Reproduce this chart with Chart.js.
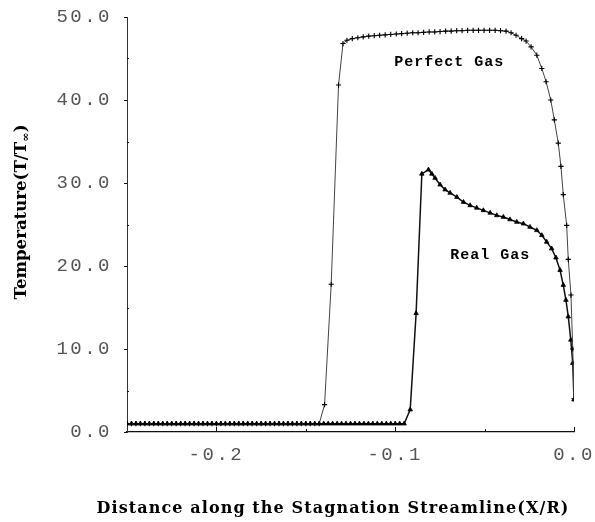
<!DOCTYPE html>
<html><head><meta charset="utf-8">
<script src="https://cdn.jsdelivr.net/npm/chart.js@4.4.0/dist/chart.umd.min.js"></script>
<style>html,body{margin:0;padding:0;background:#fff}canvas{display:block}</style>
</head><body>
<canvas id="c" width="595" height="522"></canvas>
<script>
// ---- data ----
const perfectX = [
-0.2500,-0.2475,-0.2450,-0.2425,-0.2400,-0.2375,-0.2350,-0.2325,-0.2300,-0.2275,
-0.2250,-0.2225,-0.2200,-0.2175,-0.2150,-0.2125,-0.2100,-0.2075,-0.2050,-0.2025,
-0.2000,-0.1975,-0.1950,-0.1925,-0.1900,-0.1875,-0.1850,-0.1825,-0.1800,-0.1775,
-0.1750,-0.1725,-0.1700,-0.1675,-0.1650,-0.1625,-0.1600,-0.1575,-0.1550,-0.1525,
-0.1500,-0.1475,-0.1450,-0.1425,
-0.1395,-0.1358,-0.1317,-0.1292,-0.1270,-0.1240,-0.1209,-0.1179,-0.1148,-0.1117,
-0.1087,-0.1056,-0.1025,-0.0994,-0.0964,-0.0933,-0.0902,-0.0872,-0.0841,-0.0810,
-0.0779,-0.0749,-0.0718,-0.0687,-0.0656,-0.0626,-0.0595,-0.0564,-0.0534,-0.0503,
-0.0472,-0.0441,-0.0411,-0.0380,-0.0352,-0.0324,-0.0293,-0.0268,-0.0240,-0.0208,
-0.0180,-0.0156,-0.0130,-0.0110,-0.0088,-0.0073,-0.0060,-0.0041,-0.0032,-0.0017,
-0.0007,0.0000];
const perfectT = [
1.0,1.0,1.0,1.0,1.0,1.0,1.0,1.0,1.0,1.0,
1.0,1.0,1.0,1.0,1.0,1.0,1.0,1.0,1.0,1.0,
1.0,1.0,1.0,1.0,1.0,1.0,1.0,1.0,1.0,1.0,
1.0,1.0,1.0,1.0,1.0,1.0,1.0,1.0,1.0,1.0,
1.0,1.0,1.0,1.0,
3.3,17.8,41.8,46.8,47.2,47.4,47.5,47.6,47.7,47.75,
47.8,47.85,47.9,47.95,48.0,48.05,48.1,48.1,48.15,48.2,
48.2,48.25,48.3,48.3,48.35,48.35,48.4,48.4,48.4,48.4,
48.4,48.4,48.35,48.3,48.1,47.8,47.4,47.1,46.4,45.4,
43.8,42.2,40.0,37.6,34.8,32.0,28.6,24.9,20.8,16.5,
10.0,4.0];
const realX = [
-0.2500,-0.2475,-0.2450,-0.2425,-0.2400,-0.2375,-0.2350,-0.2325,-0.2300,-0.2275,
-0.2250,-0.2225,-0.2200,-0.2175,-0.2150,-0.2125,-0.2100,-0.2075,-0.2050,-0.2025,
-0.2000,-0.1975,-0.1950,-0.1925,-0.1900,-0.1875,-0.1850,-0.1825,-0.1800,-0.1775,
-0.1750,-0.1725,-0.1700,-0.1675,-0.1650,-0.1625,-0.1600,-0.1575,-0.1550,-0.1525,
-0.1500,-0.1475,-0.1450,-0.1425,-0.1400,-0.1375,-0.1350,-0.1325,-0.1300,-0.1275,
-0.1250,-0.1225,-0.1200,-0.1175,-0.1150,-0.1125,-0.1100,-0.1075,-0.1050,-0.1025,
-0.1000,-0.0975,-0.0950,
-0.0916,-0.0883,-0.0851,-0.0814,-0.0795,-0.0777,-0.0749,-0.0721,-0.0693,-0.0655,
-0.0618,-0.0581,-0.0544,-0.0507,-0.0469,-0.0432,-0.0395,-0.0358,-0.0320,-0.0283,
-0.0246,-0.0208,-0.0180,-0.0153,-0.0125,-0.0101,-0.0078,-0.0060,-0.0045,-0.0032,
-0.0018,-0.0007,0.0000];
const realT = [
1.0,1.0,1.0,1.0,1.0,1.0,1.0,1.0,1.0,1.0,
1.0,1.0,1.0,1.0,1.0,1.0,1.0,1.0,1.0,1.0,
1.0,1.0,1.0,1.0,1.0,1.0,1.0,1.0,1.0,1.0,
1.0,1.0,1.0,1.0,1.0,1.0,1.0,1.0,1.0,1.0,
1.0,1.0,1.0,1.0,1.0,1.0,1.0,1.0,1.0,1.0,
1.0,1.0,1.0,1.0,1.0,1.0,1.0,1.0,1.0,1.0,
1.0,1.0,1.0,
2.7,14.3,31.1,31.6,31.1,30.6,29.8,29.2,28.8,28.3,
27.7,27.3,27.0,26.7,26.4,26.1,25.9,25.6,25.3,25.1,
24.7,24.3,23.7,22.9,22.1,21.0,19.5,17.7,15.9,13.9,
11.1,8.3,3.9];
const seriesNames = ['Perfect Gas', 'Real Gas'];
const yTickValues = [0, 10, 20, 30, 40, 50];
const yMinorValues = [5, 15, 25, 35, 45];
const xTickValues = [-0.2, -0.1, 0.0];
const xMinorValues = [-0.15, -0.05];
const xTitleText = 'Distance along the Stagnation Streamline(X/R)';
const yTitleText = 'Temperature(T/T';
const yTitleSub = '\u221E';
const yTitleEnd = ')';
// label anchor (data coordinates) for the in-plot series names
const seriesLabelAt = [[-0.0698, 44.5], [-0.0469, 21.3]];

const zip = (xs, ys) => xs.map((x, i) => ({x: x, y: ys[i]}));

const decor = {
  id: 'decor',
  beforeDraw(chart) { chart.ctx.letterSpacing = '2.5px'; },
  beforeDatasetsDraw(chart) { chart.ctx.letterSpacing = '0px'; },
  afterDraw(chart) {
    const ctx = chart.ctx;
    const xs = chart.scales.x, ys = chart.scales.y;
    ctx.save();
    ctx.letterSpacing = '0px';
    ctx.strokeStyle = '#111';
    ctx.lineWidth = 1;
    ctx.beginPath();
    xTickValues.forEach(v => { const p = Math.round(xs.getPixelForValue(v)) + 0.5; ctx.moveTo(p, ys.bottom); ctx.lineTo(p, ys.bottom - 5); });
    xMinorValues.forEach(v => { const p = Math.round(xs.getPixelForValue(v)) + 0.5; ctx.moveTo(p, ys.bottom); ctx.lineTo(p, ys.bottom - 3); });
    yTickValues.forEach(v => { const p = Math.round(ys.getPixelForValue(v)) + 0.5; ctx.moveTo(xs.left, p); ctx.lineTo(xs.left - 3, p); });
    yMinorValues.forEach(v => { const p = Math.round(ys.getPixelForValue(v)) + 0.5; ctx.moveTo(xs.left, p); ctx.lineTo(xs.left + 2, p); });
    ctx.stroke();

    ctx.fillStyle = '#000';
    ctx.font = 'bold 15px "Liberation Mono"';
    ctx.letterSpacing = '1px';
    ctx.textAlign = 'center';
    ctx.textBaseline = 'middle';
    seriesNames.forEach((n, i) => {
      ctx.fillText(n, xs.getPixelForValue(seriesLabelAt[i][0]), ys.getPixelForValue(seriesLabelAt[i][1]));
    });

    ctx.font = 'bold 16px "DejaVu Serif"';
    ctx.letterSpacing = '0px';
    let w = ctx.measureText(xTitleText).width;
    const targetX = 473;
    ctx.letterSpacing = Math.max(0, (targetX - w) / xTitleText.length) + 'px';
    ctx.textAlign = 'center';
    ctx.fillText(xTitleText, 333, 509);

    ctx.translate(20, 212);
    ctx.rotate(-Math.PI / 2);
    ctx.letterSpacing = '0px';
    ctx.font = 'bold 16px "DejaVu Serif"';
    const w1 = ctx.measureText(yTitleText).width;
    const w3 = ctx.measureText(yTitleEnd).width;
    ctx.font = 'bold 11px "DejaVu Serif"';
    const w2 = ctx.measureText(yTitleSub).width;
    const total = w1 + w2 + w3;
    const scale = 175 / total;
    ctx.scale(scale, 1);
    let x0 = -total / 2;
    ctx.textAlign = 'left';
    ctx.textBaseline = 'alphabetic';
    ctx.font = 'bold 16px "DejaVu Serif"';
    ctx.fillText(yTitleText, x0, 6);
    ctx.font = 'bold 11px "DejaVu Serif"';
    ctx.fillText(yTitleSub, x0 + w1, 9);
    ctx.font = 'bold 16px "DejaVu Serif"';
    ctx.fillText(yTitleEnd, x0 + w1 + w2, 6);
    ctx.restore();
  }
};

new Chart(document.getElementById('c'), {
  type: 'scatter',
  data: {
    datasets: [
      {
        label: seriesNames[0],
        data: zip(perfectX, perfectT),
        showLine: true,
        borderColor: '#444',
        borderWidth: 1,
        pointStyle: 'cross',
        pointRadius: 2.6,
        pointBorderColor: '#000',
        pointBorderWidth: 1.1,
        pointBackgroundColor: '#000',
        tension: 0
      },
      {
        label: seriesNames[1],
        data: zip(realX, realT),
        showLine: true,
        borderColor: '#111',
        borderWidth: 1.5,
        pointStyle: 'triangle',
        pointRadius: 2.6,
        pointBorderColor: '#000',
        pointBorderWidth: 0.8,
        pointBackgroundColor: '#000',
        tension: 0
      }
    ]
  },
  options: {
    responsive: false,
    animation: false,
    events: [],
    layout: { padding: { top: 17, right: 21, left: 0, bottom: 0 } },
    plugins: { legend: { display: false }, tooltip: { enabled: false }, title: { display: false } },
    scales: {
      x: {
        type: 'linear',
        min: -0.25,
        max: 0.0,
        afterFit(s) { s.height = 90; s.paddingLeft = 0; s.paddingRight = 0; },
        afterBuildTicks(s) { s.ticks = xTickValues.map(v => ({ value: v })); },
        grid: { display: false, drawTicks: false },
        border: { display: true, color: '#111', width: 1.3 },
        ticks: {
          padding: 12,
          color: '#555',
          font: { family: 'Liberation Mono', size: 19 },
          maxRotation: 0,
          callback: v => v.toFixed(1)
        }
      },
      y: {
        type: 'linear',
        min: 0,
        max: 50,
        afterFit(s) { s.width = 127; s.paddingTop = 0; s.paddingBottom = 0; },
        afterBuildTicks(s) { s.ticks = yTickValues.map(v => ({ value: v })); },
        grid: { display: false, drawTicks: false },
        border: { display: true, color: '#333', width: 1 },
        ticks: {
          padding: 15,
          color: '#555',
          font: { family: 'Liberation Mono', size: 19 },
          callback: v => v.toFixed(1)
        }
      }
    }
  },
  plugins: [decor]
});
</script>
</body></html>
